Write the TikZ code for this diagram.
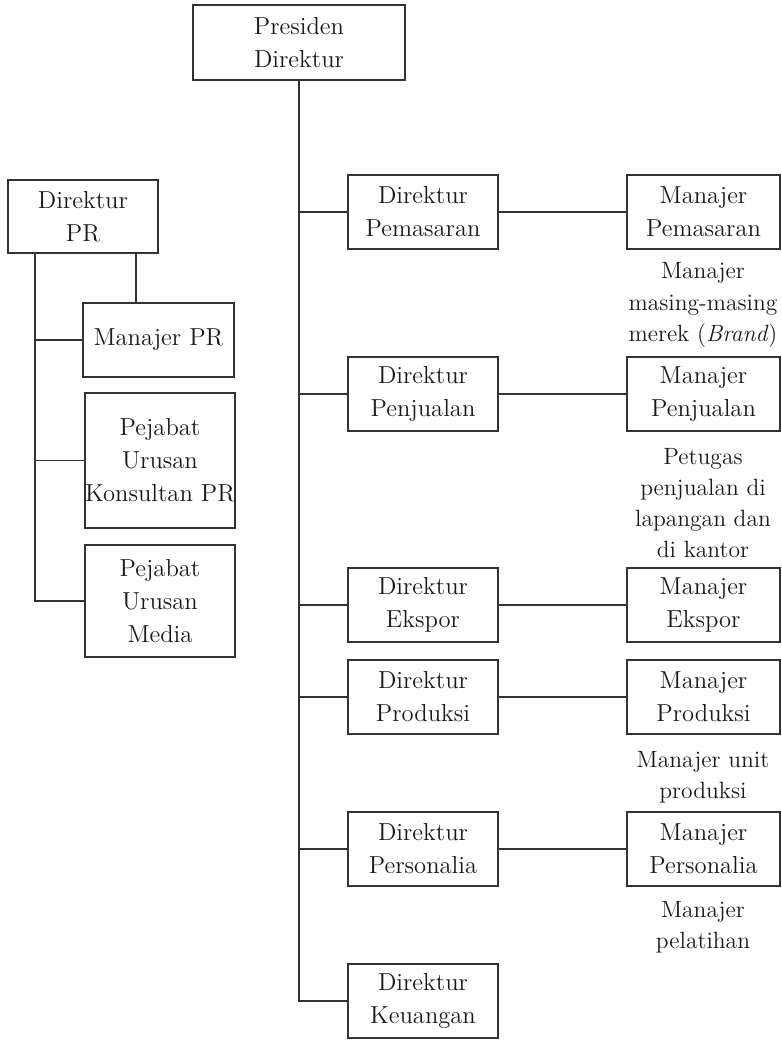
\documentclass[tikz,border=0pt]{standalone}
\usetikzlibrary{positioning}
\tikzset{
  box/.style={draw, line width=0.65pt, inner sep=0pt, align=center,
    minimum width=3cm, minimum height=1.48cm},
  note/.style={inner sep=0pt, align=center, font=\fontsize{13.4}{17.8}\selectfont},
  link/.style={draw, line width=0.65pt},
}

\begin{document}
\begin{tikzpicture}[x=0.02cm, y=-0.02cm, black!80,
    every node/.style={font=\fontsize{14}{18.7}\selectfont, text=black!90}]
  \useasboundingbox (0,0) rectangle (781,1040);

  % top
  \node[box, minimum width=4.24cm, minimum height=1.5cm] (pd) at (299,42.5) {Presiden\\Direktur};

  % PR side
  \node[box, minimum height=1.46cm] (dpr) at (83,216.5) {Direktur\\PR};
  \node[box, minimum width=3.02cm] (mpr) at (158.5,340) {Manajer PR};
  \node[box, minimum height=2.7cm] (kpr) at (160,460.5) {Pejabat\\Urusan\\Konsultan PR};
  \node[box, minimum height=2.24cm] (med) at (160,601) {Pejabat\\Urusan\\Media};

  % directors
  \node[box] (dpem) at (423,212) {Direktur\\Pemasaran};
  \node[box] (dpen) at (423,394) {Direktur\\Penjualan};
  \node[box] (deks) at (423,605) {Direktur\\Ekspor};
  \node[box] (dpro) at (423,697) {Direktur\\Produksi};
  \node[box] (dper) at (423,849) {Direktur\\Personalia};
  \node[box] (dkeu) at (423,1001) {Direktur\\Keuangan};

  % managers
  \node[box, minimum width=3.06cm] (mpem) at (703.5,212) {Manajer\\Pemasaran};
  \node[box, minimum width=3.06cm] (mpen) at (703.5,394) {Manajer\\Penjualan};
  \node[box, minimum width=3.06cm] (meks) at (703.5,605) {Manajer\\Ekspor};
  \node[box, minimum width=3.06cm] (mpro) at (703.5,697) {Manajer\\Produksi};
  \node[box, minimum width=3.06cm] (mper) at (703.5,849) {Manajer\\Personalia};

  % notes under managers
  \node[note] (npem) at (703,305) {Manajer\\masing-masing\\merek (\textit{Brand})};
  \node[note] (npen) at (703,503) {Petugas\\penjualan di\\lapangan dan\\di kantor};
  \node[note] (npro) at (703,777) {Manajer unit\\produksi};
  \node[note] (nper) at (703,927) {Manajer\\pelatihan};

  % trunk
  \draw[link] (pd.south) |- (dkeu.west);
  \foreach \d in {pem,pen,eks,pro,per}
    \draw[link] (pd.south |- d\d.west) -- (d\d.west);
  \foreach \d in {pem,pen,eks,pro,per}
    \draw[link] (d\d.east) -- (m\d.west);

  % PR lines
  \coordinate (lt) at (35,253);
  \coordinate (rt) at (136,253);
  \draw[link] (lt) |- (med.west);
  \draw[link] (lt |- mpr.west) -- (mpr.west);
  \draw[link] (lt |- kpr.west) -- (kpr.west);
  \draw[link] (rt) -- (rt |- mpr.north);
\end{tikzpicture}
\end{document}
